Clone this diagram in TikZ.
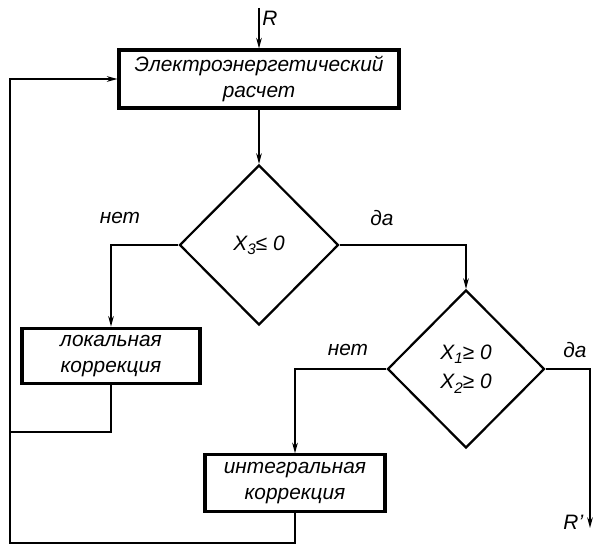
\documentclass[tikz,border=0pt]{standalone}
\usepackage{fontspec}
\setmainfont{Liberation Sans}
\usetikzlibrary{shapes.geometric,arrows.meta}
\newcommand{\lowidx}[1]{\raisebox{-0.4ex}{\fontsize{13}{13}\selectfont #1}}
\begin{document}
\begin{tikzpicture}[line width=1.2pt,
	  font=\fontsize{17.8}{22}\selectfont\itshape,
	  blk/.style={draw,line width=2.6pt,align=center,inner sep=0pt},
	  cond/.style={draw,diamond,line width=1.9pt,align=center,inner sep=0pt},
	  arr/.style={-{Stealth[length=3.2mm,width=1.7mm]}},
	  lbl/.style={inner sep=1pt}]
	\useasboundingbox (0,0) rectangle (17.79,-16.35);
	% blocks
	\node[blk,minimum width=8.4cm,minimum height=1.74cm] (calc) at (7.77,-2.37) {Электроэнергетический\\расчет};
	\node[cond,minimum width=4.77cm,minimum height=4.8cm] (c1) at (7.77,-7.35) {\raisebox{-0.5ex}{X\lowidx{3}≤ 0}};
	\node[blk,minimum width=5.34cm,minimum height=1.65cm] (loc) at (3.33,-10.67) {локальная\\коррекция};
	\node[cond,minimum width=4.71cm,minimum height=4.74cm,font=\fontsize{17.8}{25}\selectfont\itshape] (c2) at (13.98,-11.07) {X\lowidx{1}≥ 0\\X\lowidx{2}≥ 0};
	\node[blk,minimum width=5.4cm,minimum height=1.71cm] (int) at (8.85,-14.5) {интегральная\\коррекция};
	% free ends
	\coordinate (in) at (7.77,-0.24);
	\coordinate (out) at (17.7,-15.84);
	\coordinate (backA) at (0.3,-12.96);
	\coordinate (backB) at (0.3,-16.29);
	% labels
	\node[lbl] (r-in) at (8.1,-0.55) {R};
	\node[lbl] (r-out) at (17.2,-15.66) {R'};
	\node[lbl] (no-1) at (3.6,-6.54) {нет};
	\node[lbl] (yes-1) at (11.46,-6.54) {да};
	\node[lbl] (no-2) at (10.44,-10.5) {нет};
	\node[lbl] (yes-2) at (17.25,-10.5) {да};
	% connectors
	\draw[arr] (in) -- (calc);
	\draw[arr] (calc) -- (c1);
	\draw[arr] (c1.west) -| (loc.north);
	\draw[arr] (c1.east) -| (c2.north);
	\draw[arr] (c2.west) -| (int.north);
	\draw[arr] (c2.east) -| (out);
	\draw (loc.south) |- (backA);
	\draw[arr] (int.south) |- (backB) |- (calc.west);
\end{tikzpicture}
\end{document}
